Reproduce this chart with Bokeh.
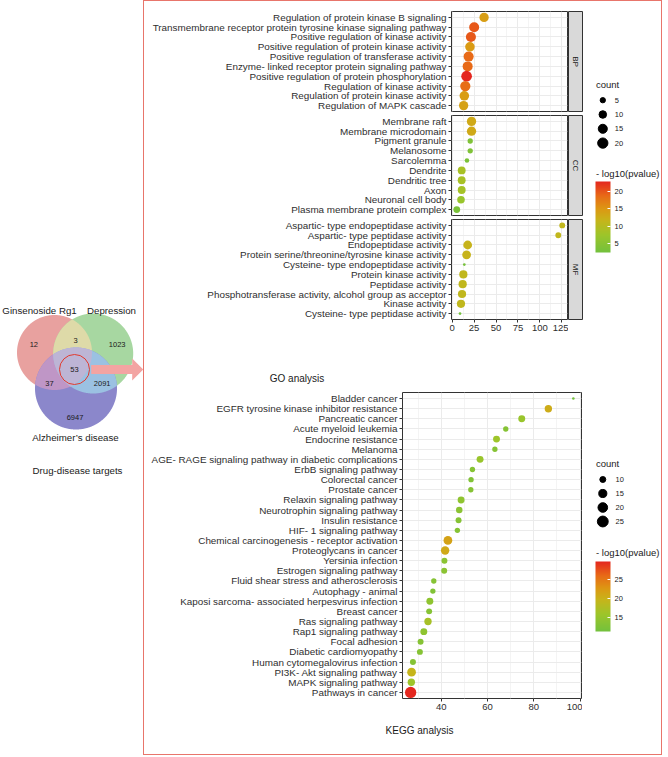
import numpy as np
from bokeh.plotting import figure
from bokeh.models import ColumnDataSource, Range1d, FixedTicker, LinearColorMapper, ColorBar
from bokeh.layouts import row, column
from bokeh.embed import file_html
from bokeh.resources import INLINE
from bokeh.core.properties import value

FONT = "Liberation Sans"
TXT = "#2e2e2e"
INK = "#1a1a1a"

# ---------------- data ----------------
venn_names = ["Ginsenoside Rg1", "Depression", "Alzheimer\u2019s disease"]
venn_regions = ["A", "AB", "B", "ABC", "AC", "BC", "C"]
venn_values = [12, 3, 1023, 53, 37, 2091, 6947]

bp_terms = ["Regulation of protein kinase B signaling",
            "Transmembrane receptor protein tyrosine kinase signaling pathway",
            "Positive regulation of kinase activity",
            "Positive regulation of protein kinase activity",
            "Positive regulation of transferase activity",
            "Enzyme- linked receptor protein signaling pathway",
            "Positive regulation of protein phosphorylation",
            "Regulation of kinase activity",
            "Regulation of protein kinase activity",
            "Regulation of MAPK cascade"]
bp_x = [36.4, 25.1, 21.4, 20.3, 18.8, 17.7, 16.5, 15.0, 13.9, 13.1]
bp_count = [16, 19, 19, 17, 19, 19, 22, 20, 17, 16]
bp_logp = [14.3, 19.8, 19.8, 14.7, 18.7, 18.7, 22.8, 18.5, 14.5, 13.9]

cc_terms = ["Membrane raft", "Membrane microdomain", "Pigment granule", "Melanosome",
            "Sarcolemma", "Dendrite", "Dendritic tree", "Axon", "Neuronal cell body",
            "Plasma membrane protein complex"]
cc_x = [22.1, 22.1, 20.6, 20.6, 16.9, 10.9, 10.9, 10.9, 10.1, 5.3]
cc_count = [16, 16, 5, 5, 4, 11, 11, 11, 10, 8]
cc_logp = [13.0, 13.0, 4.0, 4.0, 3.5, 8.6, 8.6, 8.3, 7.0, 3.5]

mf_terms = ["Aspartic- type endopeptidase activity",
            "Aspartic- type peptidase activity",
            "Endopeptidase activity",
            "Protein serine/threonine/tyrosine kinase activity",
            "Cysteine- type endopeptidase activity",
            "Protein kinase activity",
            "Peptidase activity",
            "Phosphotransferase activity, alcohol group as acceptor",
            "Kinase activity",
            "Cysteine- type peptidase activity"]
mf_x = [125.4, 120.9, 17.7, 16.5, 13.9, 12.8, 12.0, 11.3, 10.1, 9.0]
mf_count = [6, 6, 14, 14, 3, 12, 12, 12, 12, 3]
mf_logp = [11.2, 11.2, 11.8, 11.8, 3.0, 11.0, 11.0, 11.0, 11.0, 2.5]

go_x_ticks = [0, 25, 50, 75, 100, 125]
go_count_breaks = [5, 10, 15, 20]
go_color_breaks = [5, 10, 15, 20]

kegg_terms = ["Bladder cancer", "EGFR tyrosine kinase inhibitor resistance", "Pancreatic cancer",
              "Acute myeloid leukemia", "Endocrine resistance", "Melanoma",
              "AGE- RAGE signaling pathway in diabetic complications", "ErbB signaling pathway",
              "Colorectal cancer", "Prostate cancer", "Relaxin signaling pathway",
              "Neurotrophin signaling pathway", "Insulin resistance", "HIF- 1 signaling pathway",
              "Chemical carcinogenesis - receptor activation", "Proteoglycans in cancer",
              "Yersinia infection", "Estrogen signaling pathway",
              "Fluid shear stress and atherosclerosis", "Autophagy - animal",
              "Kaposi sarcoma- associated herpesvirus infection", "Breast cancer",
              "Ras signaling pathway", "Rap1 signaling pathway", "Focal adhesion",
              "Diabetic cardiomyopathy", "Human cytomegalovirus infection",
              "PI3K- Akt signaling pathway", "MAPK signaling pathway", "Pathways in cancer"]
kegg_x = [97.1, 86.3, 74.8, 67.9, 63.9, 63.2, 56.8, 53.5, 52.9, 52.8, 48.6, 47.8, 47.5, 47.0,
          42.9, 41.7, 41.4, 41.3, 36.8, 36.4, 35.1, 34.8, 34.3, 32.5, 31.1, 30.8, 27.8, 27.2,
          27.1, 26.8]
kegg_count = [7, 13, 12, 9, 12, 9, 12, 9, 9, 9, 12, 11, 10, 9, 17, 16, 10, 10, 9, 9, 12, 10,
              13, 12, 10, 10, 10, 17, 13, 27]
kegg_logp = [11.5, 20.5, 15.5, 13.5, 16.0, 13.5, 15.5, 13.5, 13.0, 13.5, 14.5, 14.0, 13.5, 13.5,
             21.5, 20.8, 14.0, 14.0, 13.5, 13.0, 14.5, 13.5, 16.8, 14.5, 13.5, 13.5, 13.5, 19.6,
             16.0, 29.5]
kegg_x_ticks = [40, 60, 80, 100]
kegg_count_breaks = [10, 15, 20, 25]
kegg_color_breaks = [15, 20, 25]

# ---------------- helpers ----------------
STOPS = [(0.0, "#73C13D"), (0.25, "#9EC52A"), (0.45, "#C6B51B"),
         (0.62, "#DD9713"), (0.80, "#E86A17"), (1.0, "#E4271F")]


def make_palette(n=256):
    fr = np.array([s[0] for s in STOPS])
    rgb = np.array([[int(h[i:i + 2], 16) for i in (1, 3, 5)] for _, h in STOPS], float)
    t = np.linspace(0, 1, n)
    ch = [np.interp(t, fr, rgb[:, k]) for k in range(3)]
    return ["#%02x%02x%02x" % (int(round(r)), int(round(g)), int(round(b))) for r, g, b in zip(*ch)]


PAL = make_palette()


def size_fn(cmin, cmax, dmin, dmax):
    def f(c):
        return float(dmin + (dmax - dmin) * np.sqrt(max(c - cmin, 0) / (cmax - cmin)))
    return f


def padded(vals, frac=0.05):
    lo, hi = min(vals), max(vals)
    s = hi - lo
    return lo - frac * s, hi + frac * s


def minor_between(ticks, lo, hi):
    step = ticks[1] - ticks[0]
    cand = [ticks[0] - step / 2] + [t + step / 2 for t in ticks]
    return [c for c in cand if lo <= c <= hi]


go_counts_all = bp_count + cc_count + mf_count
go_logp_all = bp_logp + cc_logp + mf_logp
go_x_all = bp_x + cc_x + mf_x
go_size = size_fn(min(go_counts_all), max(go_counts_all), 2.7, 10.7)
go_mapper = LinearColorMapper(palette=PAL, low=min(go_logp_all), high=max(go_logp_all))
go_xr = padded(go_x_all)

kegg_size = size_fn(min(kegg_count), max(kegg_count), 2.6, 11.3)
kegg_mapper = LinearColorMapper(palette=PAL, low=min(kegg_logp), high=max(kegg_logp))
kegg_xr = padded(kegg_x)

GRID = "#EBEBEB"
MINOR = "#F4F4F4"


def blank_fig(width, frame_h, top=0, bottom=0):
    f = figure(width=width, height=top + frame_h + bottom, x_range=Range1d(0, width),
               y_range=Range1d(frame_h, 0),
               output_backend="svg", toolbar_location=None, title=None,
               x_axis_location=None, y_axis_location=None,
               min_border_left=0, min_border_right=0, min_border_top=top,
               min_border_bottom=bottom)
    f.grid.visible = False
    f.outline_line_color = None
    return f


def dot_panel(terms, xs, counts, logp, sz, mapper, xr, xticks, left, frame_w, frame_h,
              top, bottom, show_x):
    n = len(terms)
    ys = list(range(1, n + 1))
    src = ColumnDataSource(dict(x=xs, y=ys, size=[sz(c) for c in counts], logp=logp))
    p = figure(width=left + frame_w + 1, height=top + frame_h + bottom,
               x_range=Range1d(*xr), y_range=Range1d(n + 0.6, 0.4),
               output_backend="svg", toolbar_location=None, title=None,
               min_border_left=left, min_border_right=1, min_border_top=top,
               min_border_bottom=bottom)
    p.outline_line_color = "#333333"
    p.outline_line_width = 1
    xt = FixedTicker(ticks=xticks, minor_ticks=minor_between(xticks, xr[0], xr[1]))
    yt = FixedTicker(ticks=ys)
    p.xaxis.ticker = xt
    p.xgrid.ticker = xt
    p.yaxis.ticker = yt
    p.ygrid.ticker = yt
    p.xgrid.grid_line_color = GRID
    p.xgrid.minor_grid_line_color = MINOR
    p.ygrid.grid_line_color = GRID
    p.yaxis.major_label_overrides = {i: t for i, t in zip(ys, terms)}
    for ax in (p.xaxis, p.yaxis):
        ax.axis_line_color = None
        ax.major_tick_line_color = "#333333"
        ax.major_tick_out = 3
        ax.major_tick_in = 0
        ax.minor_tick_line_color = None
        ax.major_label_text_font = FONT
        ax.major_label_text_color = TXT
    p.yaxis.major_label_text_font_size = "9.9px"
    p.yaxis.major_label_standoff = 2
    p.xaxis.major_label_text_font_size = "9.5px"
    p.xaxis.major_label_standoff = 1
    if not show_x:
        p.xaxis.visible = False
    p.scatter(x="x", y="y", size="size", source=src, line_color=None,
              fill_color={"field": "logp", "transform": mapper})
    return p


def strip(label, top, bottom, frame_h=100):
    s = figure(width=15, height=top + frame_h + bottom, x_range=Range1d(0, 1),
               y_range=Range1d(0, 1), output_backend="svg", toolbar_location=None,
               title=None, x_axis_location=None, y_axis_location=None,
               min_border_left=0, min_border_right=1, min_border_top=top,
               min_border_bottom=bottom)
    s.grid.visible = False
    s.background_fill_color = "#D9D9D9"
    s.outline_line_color = "#333333"
    s.text(x=[0.5], y=[0.5], text=[label], angle=-np.pi / 2, text_align="center",
           text_baseline="middle", text_font_size="8px", text_color=INK,
           text_font=value(FONT))
    return s


def legend_fig(width, frame_h, top, bottom, breaks, sz, title_x, title_y, cx, dot_y0, dot_dy,
               lab_x, mapper, cticks, cb_title_y, bar_x, bar_bottom, bar_len):
    lf = blank_fig(width, frame_h, top, bottom)
    lf.text(x=[title_x, title_x], y=[title_y, cb_title_y], text=["count", "- log10(pvalue)"],
            text_font_size="9.5px", text_baseline="middle", text_align="left",
            text_color=INK, text_font=value(FONT))
    ys = [dot_y0 + i * dot_dy for i in range(len(breaks))]
    lf.scatter(x=[cx] * len(breaks), y=ys, size=[sz(b) for b in breaks], color="black")
    lf.text(x=[lab_x] * len(breaks), y=ys, text=[str(b) for b in breaks],
            text_font_size="7.5px", text_baseline="middle", text_align="left",
            text_color=INK, text_font=value(FONT))
    cb = ColorBar(color_mapper=mapper, ticker=FixedTicker(ticks=cticks),
                  width=15, height=int(round(bar_len)),
                  location=(int(round(bar_x)), int(round(frame_h - bar_bottom))),
                  orientation="vertical", title=None,
                  major_label_text_font_size="7.5px", major_label_text_font=FONT,
                  major_label_text_color=INK,
                  major_tick_line_color="white", major_tick_in=3, major_tick_out=0,
                  minor_tick_line_color=None, bar_line_color=None,
                  border_line_color=None, background_fill_color=None, padding=0,
                  label_standoff=4)
    lf.add_layout(cb, "center")
    return lf


def caption(width, height, x, y, text):
    c = blank_fig(width, height)
    c.text(x=[x], y=[y], text=[text], text_align="center", text_baseline="middle",
           text_font_size="10px", text_color=INK, text_font=value(FONT))
    return c


BOX_W = 517

# ---------------- GO block ----------------
GO_LEFT, GO_W, FH = 307, 116, 100
bp = dot_panel(bp_terms, bp_x, bp_count, bp_logp, go_size, go_mapper, go_xr, go_x_ticks,
               GO_LEFT, GO_W, FH, 10, 2, False)
cc = dot_panel(cc_terms, cc_x, cc_count, cc_logp, go_size, go_mapper, go_xr, go_x_ticks,
               GO_LEFT, GO_W, FH, 2, 2, False)
mf = dot_panel(mf_terms, mf_x, mf_count, mf_logp, go_size, go_mapper, go_xr, go_x_ticks,
               GO_LEFT, GO_W, FH, 2, 18, True)
go_stack = column(row(bp, strip("BP", 10, 2)), row(cc, strip("CC", 2, 2)),
                  row(mf, strip("MF", 2, 18)))
GO_H = 112 + 104 + 120
go_leg = legend_fig(BOX_W - 424 - 15, GO_H, 0, 0, go_count_breaks, go_size, 12.5, 83, 19.3,
                    98.7, 14.3, 31.3, go_mapper, go_color_breaks, 171.7, 12, 251.3, 71)
go_block = row(go_stack, go_leg)
go_cap = caption(BOX_W, 49, 152.5, 41, "GO analysis")

# ---------------- KEGG block ----------------
KL, KW, KH = 258, 179, 306
kegg = dot_panel(kegg_terms, kegg_x, kegg_count, kegg_logp, kegg_size, kegg_mapper, kegg_xr,
                 kegg_x_ticks, KL, KW, KH, 6, 18, True)
K_H = 6 + KH + 18
kegg_leg = legend_fig(BOX_W - (KL + KW + 1), KH, 6, 18, kegg_count_breaks, kegg_size, 13.5,
                      70.7, 20.3, 87, 14, 33, kegg_mapper, kegg_color_breaks, 160.3, 13, 239, 70)
kegg_block = row(kegg, kegg_leg)
kegg_cap = caption(BOX_W, 38, 275, 14, "KEGG analysis")

box = column(go_block, go_cap, kegg_block, kegg_cap,
             styles={"border": "1px solid #E8756B"})

# ---------------- Venn ----------------
VW, VH = 143, GO_H + 49 + K_H + 38 + 2
venn = blank_fig(VW, VH)

circles = [((54.0, 352.0), 37.5), ((92.7, 353.0), 40.0), ((75.5, 388.0), 41.0)]
region_color = {"A": "#E8A19F", "B": "#A7D7A1", "C": "#8B87CB", "AB": "#DEDAA8",
                "AC": "#BF96C6", "BC": "#9BC1E2", "ABC": "#BDB5D5"}


def circ_pts(c, r, n=720):
    t = np.linspace(0, 2 * np.pi, n, endpoint=False)
    return np.c_[c[0] + r * np.cos(t), c[1] + r * np.sin(t)]


def inter_poly(idx):
    pts = []
    for i in idx:
        P = circ_pts(*circles[i])
        m = np.ones(len(P), bool)
        for j in idx:
            if j != i:
                cj, rj = circles[j]
                m &= np.hypot(P[:, 0] - cj[0], P[:, 1] - cj[1]) <= rj
        pts.append(P[m])
    P = np.vstack(pts)
    cxm, cym = P.mean(0)
    o = np.argsort(np.arctan2(P[:, 1] - cym, P[:, 0] - cxm))
    return P[o]


letters = "ABC"
polys, cols = [], []
for key in ["A", "B", "C", "AB", "AC", "BC", "ABC"]:
    idx = [letters.index(ch) for ch in key]
    P = circ_pts(*circles[idx[0]]) if len(idx) == 1 else inter_poly(idx)
    polys.append(P)
    cols.append(region_color[key])
venn.patches(xs=[list(P[:, 0]) for P in polys], ys=[list(P[:, 1]) for P in polys],
             fill_color=cols, line_color=None)

# highlight ring and arrow
venn.scatter(x=[74], y=[369], size=30, fill_color=None, line_color="#E23A2E", line_width=1)
ax0, ax1, ax2, ay, sh, hh = 90.7, 131.7, 142.7, 369.0, 4.6, 11.0
venn.patch(x=[ax0, ax1, ax1, ax2, ax1, ax1, ax0],
           y=[ay - sh, ay - sh, ay - hh, ay, ay + hh, ay + sh, ay + sh],
           fill_color="#F3A4A2", line_color=None)

label_pos = {"A": (33.3, 344), "AB": (75, 339.5), "B": (116.7, 344), "ABC": (74, 369),
             "AC": (49, 383), "BC": (101.7, 383), "C": (74.5, 416.7)}
venn.text(x=[label_pos[r][0] for r in venn_regions], y=[label_pos[r][1] for r in venn_regions],
          text=[str(v) for v in venn_values], text_align="center", text_baseline="middle",
          text_font_size="7.5px", text_color=INK, text_font=value(FONT))
venn.text(x=[39, 111, 75, 77], y=[310, 310, 436.7, 470],
          text=venn_names + ["Drug-disease targets"], text_align="center",
          text_baseline="middle", text_font_size="9.7px", text_color=INK,
          text_font=value(FONT))

layout = row(venn, box)
open("out.html", "w").write(file_html(layout, INLINE))
